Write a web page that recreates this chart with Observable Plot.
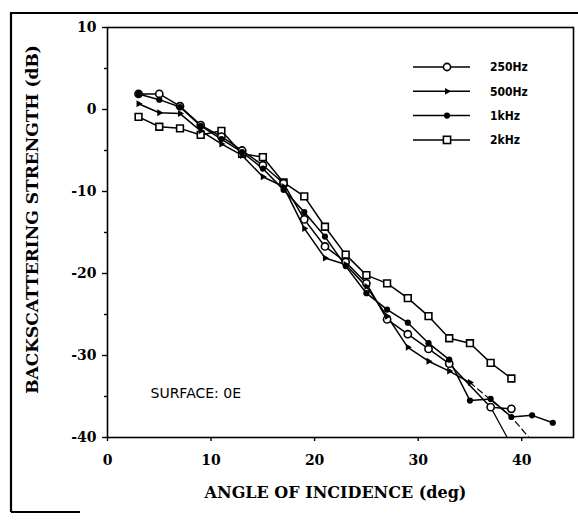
<!DOCTYPE html>
<html><head><meta charset="utf-8">
<script src="https://cdn.jsdelivr.net/npm/d3@7"></script>
<script src="https://cdn.jsdelivr.net/npm/@observablehq/plot@0.6"></script>
<style>
body{margin:0;background:#fff;}
#wrap{position:relative;width:578px;height:523px;overflow:hidden;background:#fff;}
</style></head><body><div id="wrap"></div>
<script>
// ---- data ----
const seriesNames = ["250Hz", "500Hz", "1kHz", "2kHz"];

const angle250 = [3,5,7,9,11,13,15,17,19,21,23,25,27,29,31,33,37,39];
const bs250    = [1.9,1.9,0.4,-1.9,-3.3,-5.0,-6.8,-9.0,-13.4,-16.7,-18.6,-21.2,-25.6,-27.4,-29.2,-31.0,-36.3,-36.5];

const angle500 = [3,5,7,9,11,13,15,17,19,21,23,25,27,29,31,33,35];
const bs500    = [0.7,-0.4,-0.5,-2.6,-4.2,-5.6,-8.2,-9.4,-14.5,-18.1,-18.9,-21.6,-25.2,-29.0,-30.7,-31.9,-33.3];

const angle1k  = [3,5,7,9,11,13,15,17,19,21,23,25,27,29,31,33,35,37,39,41,43];
const bs1k     = [1.9,1.2,0.3,-2.0,-3.6,-5.2,-7.2,-9.8,-12.5,-15.5,-19.1,-22.4,-24.4,-26.0,-28.5,-30.5,-35.5,-35.3,-37.5,-37.3,-38.2];

const angle2k  = [3,5,7,9,11,13,15,17,19,21,23,25,27,29,31,33,35,37,39];
const bs2k     = [-0.9,-2.1,-2.3,-3.1,-2.6,-5.4,-5.8,-8.9,-10.6,-14.3,-17.7,-20.2,-21.2,-23.0,-25.2,-27.9,-28.5,-30.9,-32.8];

// extrapolated tails running below the axis
const tail500Angle = [35, 39, 40.7];
const tail500Bs    = [-33.3, -37.5, -40];
const tail250Angle = [37, 38.6];
const tail250Bs    = [-36.3, -40];

const xTicks = [0, 10, 20, 30, 40];
const yTicks = [10, 0, -10, -20, -30, -40];
const yMinor = [5, -5, -15, -25, -35];

const xLabel = "ANGLE OF INCIDENCE (deg)";
const yLabel = "BACKSCATTERING STRENGTH (dB)";
const surfaceLabel = "SURFACE: 0E";

// ---- tables ----
const rows = (xs, ys, s) => xs.map((x, i) => ({angle: x, bs: ys[i], series: s}));
const d250 = rows(angle250, bs250, seriesNames[0]);
const d500 = rows(angle500, bs500, seriesNames[1]);
const d1k  = rows(angle1k,  bs1k,  seriesNames[2]);
const d2k  = rows(angle2k,  bs2k,  seriesNames[3]);
const t500 = rows(tail500Angle, tail500Bs, "t500");
const t250 = rows(tail250Angle, tail250Bs, "t250");

const serif = "DejaVu Serif, Liberation Serif, serif";

const chart = Plot.plot({
  width: 578,
  height: 523,
  marginLeft: 107,
  marginRight: 5,
  marginTop: 27,
  marginBottom: 86,
  x: {domain: [0, 45]},
  y: {domain: [-40, 10]},
  style: {fontFamily: serif, fontSize: "14px", fontWeight: "bold", background: "transparent", color: "black"},
  marks: [
    Plot.frame({stroke: "black", strokeWidth: 1.6}),
    Plot.axisY(yTicks, {tickSize: 5, tickPadding: 6, tickFormat: d => String(d), label: null, strokeWidth: 1.4}),
    Plot.axisY(yMinor, {tickSize: 3, tickFormat: () => "", label: null, strokeWidth: 1.4}),
    Plot.axisX(xTicks, {tickSize: 4, tickPadding: 14, tickFormat: d => String(d), label: null, strokeWidth: 1.4}),
    Plot.line(t500, {x: "angle", y: "bs", stroke: "black", strokeWidth: 1.2, strokeDasharray: "6,4", clip: true}),
    Plot.line(t250, {x: "angle", y: "bs", stroke: "black", strokeWidth: 1.2, clip: true}),
    Plot.line(d2k,  {x: "angle", y: "bs", stroke: "black", strokeWidth: 1.5}),
    Plot.line(d250, {x: "angle", y: "bs", stroke: "black", strokeWidth: 1.5}),
    Plot.line(d500, {x: "angle", y: "bs", stroke: "black", strokeWidth: 1.5}),
    Plot.line(d1k,  {x: "angle", y: "bs", stroke: "black", strokeWidth: 1.5}),
    Plot.dot(d2k,  {x: "angle", y: "bs", symbol: "square", r: 3.8, fill: "white", stroke: "black", strokeWidth: 1.6}),
    Plot.dot(d250, {x: "angle", y: "bs", r: 3.6, fill: "white", stroke: "black", strokeWidth: 1.6}),
    Plot.dot(d500, {x: "angle", y: "bs", symbol: "triangle", r: 2.6, fill: "black", rotate: 90}),
    Plot.dot(d1k,  {x: "angle", y: "bs", r: 3.1, fill: "black"}),
    Plot.text([surfaceLabel], {frameAnchor: "bottom-left", dx: 43, dy: -40, textAnchor: "start",
      fontFamily: "DejaVu Sans, Liberation Sans, sans-serif", fontSize: 14, fontWeight: "normal"}),
    Plot.text([xLabel], {frameAnchor: "bottom", dx: -5, dy: 60, textAnchor: "middle", fontSize: 16, fontWeight: "bold",
      letterSpacing: 0.7}),
    Plot.text([yLabel], {frameAnchor: "left", dx: -75, dy: -13, rotate: -90, textAnchor: "middle", fontSize: 17,
      fontWeight: "bold", letterSpacing: 2})
  ]
});

document.getElementById("wrap").appendChild(chart);

// ---- legend & page border (decoration) ----
const svg = d3.select(chart.tagName.toLowerCase() === "svg" ? chart : chart.querySelector("svg"));
const leg = svg.append("g").attr("transform", "translate(413,67)");
const legRowGap = 24.3;
seriesNames.forEach((name, i) => {
  const g = leg.append("g").attr("transform", `translate(0,${i * legRowGap})`);
  g.append("line").attr("x1", 0).attr("x2", 57).attr("stroke", "black").attr("stroke-width", 1.5);
  if (i === 0) g.append("circle").attr("cx", 34).attr("r", 3.6).attr("fill", "white").attr("stroke", "black").attr("stroke-width", 1.6);
  if (i === 1) g.append("path").attr("transform", "translate(34,0) rotate(90)")
      .attr("d", d3.symbol(d3.symbolTriangle, 20)()).attr("fill", "black");
  if (i === 2) g.append("circle").attr("cx", 34).attr("r", 3.1).attr("fill", "black");
  if (i === 3) g.append("rect").attr("x", 30.4).attr("y", -3.6).attr("width", 7.2).attr("height", 7.2)
      .attr("fill", "white").attr("stroke", "black").attr("stroke-width", 1.6);
  g.append("text").attr("x", 77).attr("dy", "0.35em").attr("text-anchor", "start").text(name)
    .attr("font-family", "DejaVu Sans Condensed, Liberation Sans Narrow, Liberation Sans, sans-serif")
    .attr("font-stretch", "condensed").attr("font-size", 12).attr("font-weight", "bold");
});

const border = svg.append("g").attr("fill", "none").attr("stroke", "black").attr("stroke-width", 2.2);
border.append("path").attr("d", "M11,512 L11,13 L578,13");
border.append("path").attr("d", "M11,512 L80,512");
</script>
</body></html>
